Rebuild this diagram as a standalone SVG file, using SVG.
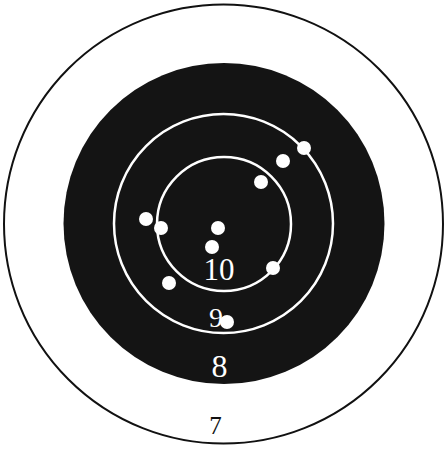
<svg xmlns="http://www.w3.org/2000/svg" width="448" height="450" viewBox="0 0 448 450">
<style>
.ring{fill:none;stroke:#fff;stroke-width:2.5}
.hit{fill:#fff}
.num{font-family:"Liberation Serif","DejaVu Serif",serif;text-anchor:middle}
</style>
<rect width="448" height="450" fill="#fff"/>
<circle cx="223.5" cy="224" r="219.5" fill="none" stroke="#111" stroke-width="2"/>
<circle cx="224" cy="223.5" r="160.5" fill="#141414"/>
<circle class="ring" cx="223.5" cy="223.5" r="109.5"/>
<circle class="ring" cx="224" cy="224" r="67"/>
<text class="num" x="219" y="280" font-size="31" fill="#fff">10</text>
<text class="num" x="216" y="327" font-size="28" fill="#fff">9</text>
<text class="num" x="219.5" y="377" font-size="32" fill="#fff">8</text>
<text class="num" x="215.5" y="434" font-size="25" fill="#111">7</text>
<g>
<circle class="hit" cx="304" cy="148" r="7"/>
<circle class="hit" cx="283" cy="161" r="7"/>
<circle class="hit" cx="261" cy="182" r="7"/>
<circle class="hit" cx="146" cy="219" r="7"/>
<circle class="hit" cx="161" cy="228" r="7"/>
<circle class="hit" cx="218" cy="228" r="7"/>
<circle class="hit" cx="212" cy="247" r="7"/>
<circle class="hit" cx="273" cy="268" r="7"/>
<circle class="hit" cx="169" cy="283" r="7"/>
<circle class="hit" cx="227" cy="322" r="7"/>
</g>
</svg>
